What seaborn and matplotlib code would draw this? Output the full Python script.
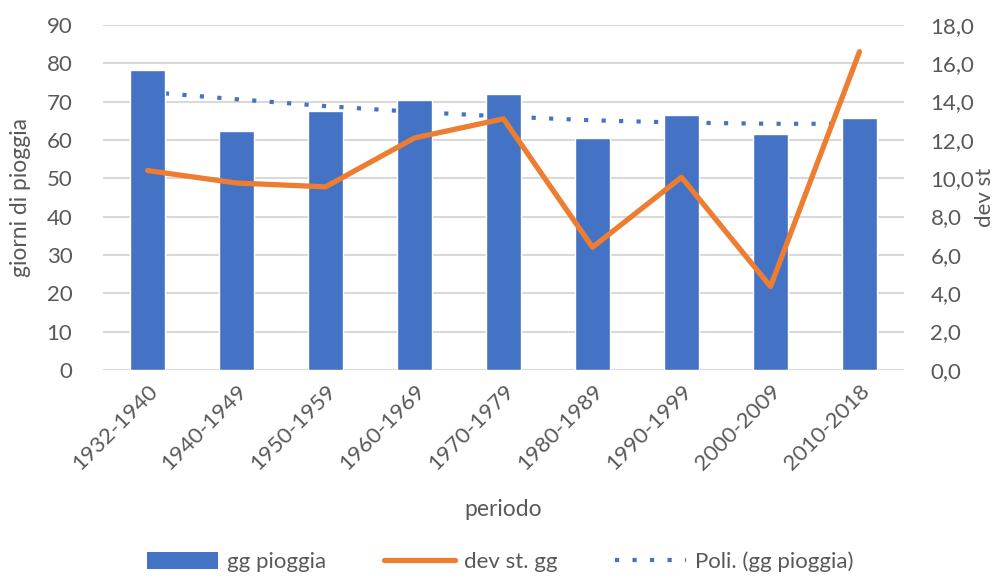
import numpy as np
import pandas as pd
import matplotlib
matplotlib.use('Agg')
import matplotlib.pyplot as plt
import seaborn as sns
from matplotlib.patches import Patch
from matplotlib.lines import Line2D
from matplotlib.ticker import FuncFormatter

periodi = ['1932-1940', '1940-1949', '1950-1959', '1960-1969', '1970-1979',
           '1980-1989', '1990-1999', '2000-2009', '2010-2018']
gg_pioggia = [78.2, 62.2, 67.5, 70.3, 71.9, 60.6, 66.4, 61.6, 65.8]
dev_st = [10.4, 9.75, 9.55, 12.1, 13.1, 6.4, 10.05, 4.35, 16.6]
trend_poli = [72.5, 70.6, 68.8, 67.3, 66.1, 65.1, 64.5, 64.2, 64.2]

blu = '#4472C4'
arancio = '#ED7D31'
grigio = '#595959'

df = pd.DataFrame({'periodo': periodi, 'gg': gg_pioggia, 'dev': dev_st, 'trend': trend_poli})

sns.set_theme(style='white')
plt.rcParams['font.family'] = ['Lato', 'DejaVu Sans']

fig = plt.figure(figsize=(10, 5.78), dpi=100)
ax = fig.add_axes([0.103, 0.36, 0.801, 0.597])

sns.barplot(data=df, x='periodo', y='gg', color=blu, width=0.4, saturation=1,
            ax=ax, zorder=3)
x = np.arange(len(periodi))
ax.plot(x, df['trend'], color=blu, lw=3, linestyle=(0, (1, 3.2)),
        dash_capstyle='butt', zorder=2)

ax.set_ylim(0, 90)
ax.set_yticks(range(0, 91, 10))
ax.set_xlim(-0.5, len(periodi) - 0.5)
ax.grid(axis='y', color='#D9D9D9', lw=1.5, zorder=0)
ax.set_axisbelow(True)
for s in ax.spines.values():
    s.set_visible(False)
ax.tick_params(axis='both', length=0, labelsize=16, colors=grigio, pad=8)
ax.tick_params(axis='y', pad=22)
plt.setp(ax.get_xticklabels(), rotation=45, ha='right', rotation_mode='anchor')
ax.set_xlabel('periodo', fontsize=16.5, color=grigio, labelpad=18)
ax.set_ylabel('giorni di pioggia', fontsize=16.5, color=grigio)
ax.yaxis.set_label_coords(-0.09, 0.5)

ax2 = ax.twinx()
sns.lineplot(x=x, y=df['dev'], color=arancio, lw=3.8, ax=ax2, zorder=5)
ax2.set_ylim(0, 18)
ax2.set_yticks(np.arange(0, 18.1, 2))
ax2.yaxis.set_major_formatter(FuncFormatter(lambda v, p: f'{v:.1f}'.replace('.', ',')))
for s in ax2.spines.values():
    s.set_visible(False)
ax2.tick_params(axis='y', length=0, labelsize=16, colors=grigio, pad=19)
ax2.set_ylabel('dev st', fontsize=16, color=grigio)
ax2.yaxis.set_label_coords(1.089, 0.5)

handles = [Patch(facecolor=blu, edgecolor='none'),
           Line2D([0], [0], color=arancio, lw=3.8),
           Line2D([0], [0], color=blu, lw=3, linestyle=(0, (1, 3.2)), dash_capstyle='butt')]
labels = ['gg pioggia', 'dev st. gg', 'Poli. (gg pioggia)']
fig.legend(handles, labels, loc='lower center', bbox_to_anchor=(0.5, -0.025), ncol=3,
           frameon=False, fontsize=16, labelcolor=grigio, handlelength=3.2,
           handleheight=0.8, columnspacing=2.6, handletextpad=0.4)

fig.savefig('out.png', dpi=100)
